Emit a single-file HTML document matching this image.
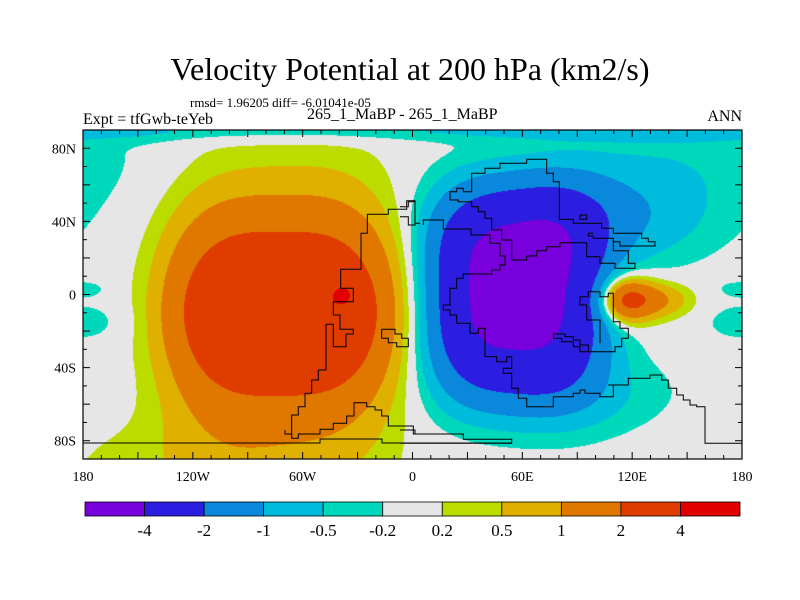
<!DOCTYPE html>
<html><head><meta charset="utf-8"><style>
html,body{margin:0;padding:0;background:#fff;width:800px;height:600px;overflow:hidden}
.t{position:absolute;font-family:"Liberation Serif",serif;color:#000;white-space:nowrap}
</style></head><body>
<div style="position:relative;width:800px;height:600px">
<div class="t" style="left:0;width:820px;text-align:center;top:51px;font-size:32px">Velocity Potential at 200 hPa (km2/s)</div>
<div class="t" style="left:190px;top:95px;font-size:13px">rmsd= 1.96205 diff= -6.01041e-05</div>
<div class="t" style="left:83px;top:111px;font-size:16px">Expt = tfGwb-teYeb</div>
<div class="t" style="left:307px;top:106px;font-size:16px">265_1_MaBP - 265_1_MaBP</div>
<div class="t" style="right:58px;top:108px;font-size:16px">ANN</div>
<canvas id="fld" width="659" height="329" style="position:absolute;left:83px;top:130px"></canvas>
<svg id="ov" width="800" height="600" style="position:absolute;left:0;top:0"></svg>
</div>
<script>
const levels=[-4,-2,-1,-0.5,-0.2,0.2,0.5,1,2,4];
const colors=["#7800dc","#2c1ee0","#0a88dc","#00bcdc","#00d8bc","#e6e6e6","#bcdc00","#e0b000","#e07800","#e03c00","#e00000"];
const levelLabels=["-4","-2","-1","-0.5","-0.2","0.2","0.5","1","2","4"];
const lonTicks=[-180,-120,-60,0,60,120,180];
const lonLabels=["180","120W","60W","0","60E","120E","180"];
const latTicks=[80,40,0,-40,-80];
const latLabels=["80N","40N","0","40S","80S"];
// field sources: amplitude, lon, lat, rx, ry, qx, qy
const srcAmp=[4.0,1.1,-4.8,-1.2,-0.6,2.4,1.0,-0.35,-0.3,0.4,-0.35];
const srcLon=[-72,-37,57,95,80,116,134,180,180,-110,150];
const srcLat=[-10,0,1,42,-55,-3,-3,-15,3,-95,75];
const srcRx=[53,6,40,50,50,12,15,18,12,70,60];
const srcRy=[44.5,6,46,22,20,10,8,9,4,25,25];
const srcQx=[3.3,2,3,2,2,2,2,2,2,2,2];
const srcQy=[1.85,2,2.85,2,2,2,2,2,2,2,2];
const polarAmp=-0.5, polarWidth=6;

const X0=83,X1=742,Y0=130,Y1=459;
const xs=lon=>X0+(lon+180)/360*(X1-X0);
const ys=lat=>Y0+(90-lat)/180*(Y1-Y0);
function field(lon,lat){
  let v=polarAmp*Math.exp(-Math.pow((90-lat)/polarWidth,2));
  for(let i=0;i<srcAmp.length;i++){
    let dx=Math.abs(lon-srcLon[i]); if(dx>180)dx=360-dx;
    const dy=Math.abs(lat-srcLat[i]);
    const s=Math.pow(dx/srcRx[i],srcQx[i])+Math.pow(dy/srcRy[i],srcQy[i]);
    v+=srcAmp[i]*Math.pow(2,-s);
  }
  return v;
}
const rgb=colors.map(c=>[parseInt(c.slice(1,3),16),parseInt(c.slice(3,5),16),parseInt(c.slice(5,7),16)]);
const cv=document.getElementById('fld'),ctx=cv.getContext('2d');
const W=cv.width,H=cv.height,img=ctx.createImageData(W,H);
for(let j=0;j<H;j++){const lat=90-(j+0.5)/H*180;
  for(let i=0;i<W;i++){const lon=-180+(i+0.5)/W*360;const v=field(lon,lat);
    let k=0;while(k<levels.length&&v>=levels[k])k++;
    const c=rgb[k],p=(j*W+i)*4;img.data[p]=c[0];img.data[p+1]=c[1];img.data[p+2]=c[2];img.data[p+3]=255;}}
ctx.putImageData(img,0,0);

const NS="http://www.w3.org/2000/svg",svg=document.getElementById('ov');
function mk(tag,at,par){const e=document.createElementNS(NS,tag);for(const k in at)e.setAttribute(k,at[k]);(par||svg).appendChild(e);return e;}
const z1=[[695,915],[695,855],[715,855],[715,830],[735,830],[735,790],[755,790],[755,750],[775,750],[775,720],[798,720],[798,583],[820,583],[820,650],[858,650],[858,612],[880,612],[880,598],[840,598],[840,555],[820,555],[820,515],[880,515],[880,475],[842,475],[842,418],[903,418],[903,310],[922,310],[922,253],[985,253],[985,238],[1040,238],[1040,212],[1065,212],[1065,280],[1080,280]];
const z1b=[[675,900],[675,912],[695,912],[695,925],[715,925],[715,912],[780,912],[780,898],[820,898],[820,880],[860,880],[860,858],[882,858],[882,818],[920,818],[920,830],[945,830],[945,840],[965,840],[965,858],[985,858],[985,888],[1060,888],[1060,912],[1080,912]];
const z1c=[[965,598],[1005,598],[1005,612],[1025,612],[1025,625],[1045,625],[1045,650],[1010,650],[1010,638],[985,638],[985,625],[965,625],[965,598]];
const z2a=[[0,230],[25,230],[25,215],[45,215],[45,285],[25,285],[25,260],[0,260]];
const z2b=[[70,285],[70,270],[130,270],[130,297],[213,297],[213,315],[270,315],[270,340],[300,340],[300,378],[315,378],[315,405],[300,405],[300,420],[275,420],[275,432],[190,432],[190,445],[170,445],[170,475],[150,475],[150,525],[130,525],[130,540],[150,540],[150,555],[170,555],[170,580],[210,580],[210,610],[235,610],[235,595],[255,595],[255,680],[290,680],[290,695],[320,695],[320,680],[335,680],[335,715],[310,715],[310,730],[335,730],[335,775],[355,775],[355,805],[380,805],[380,830],[460,830],[460,800],[520,800],[520,790],[540,790],[540,780],[555,780],[555,790],[600,790],[600,800],[640,800],[640,765],[625,765]];
const z2c=[[625,765],[685,765],[685,745],[750,745],[750,735],[785,735],[785,750],[805,750],[805,775],[830,775],[830,795],[850,795],[850,810],[870,810],[870,825],[890,825],[890,830],[915,830],[915,940],[1025,940]];
const z2d=[[150,210],[150,185],[170,185],[170,175],[190,175],[190,185],[215,185],[215,130],[255,130],[255,115],[300,115],[300,100],[380,100],[380,88],[440,88],[440,130],[460,130],[460,155],[478,155],[478,268],[520,268],[520,280],[605,280],[605,295],[640,295],[640,310],[725,310],[725,325],[745,325],[745,335],[765,335],[765,348],[660,348],[660,335],[640,335],[640,325],[580,325],[580,318],[565,318],[565,310],[580,310]];
const z2e=[[640,335],[640,362],[685,362],[685,400],[705,400],[705,415],[645,415],[645,400],[600,400],[600,380],[560,380],[560,338],[480,338],[480,350],[440,350],[440,362],[410,362],[410,378],[380,378],[380,390],[335,390],[335,330],[305,330],[305,300],[275,300],[275,265],[255,265],[255,245],[235,245],[235,230],[215,230],[215,215],[175,215],[175,210],[150,210]];
const z2f=[[565,485],[600,485],[600,500],[625,500],[625,490],[640,490],[640,575],[660,575],[660,595],[685,595],[685,625],[665,625],[665,650],[645,650],[645,665],[565,665],[565,645],[540,645],[540,630],[520,630],[520,620],[495,620],[495,612],[460,612],[460,625],[485,625],[485,635],[520,635],[520,650],[540,650],[540,665],[565,665]];
const z2g=[[565,485],[565,500],[540,500],[540,525],[560,525],[560,570],[600,570],[600,640]];
const z2h=[[0,900],[45,900],[45,912],[190,912],[190,928],[335,928],[335,940],[0,940]];
const z2i=[[540,255],[560,255],[560,268],[540,268],[540,255]];
const coastZ1=[z1,z1b,z1c],coastZ2=[z2a,z2b,z2c,z2d,z2e,z2f,z2g,z2h,z2i];
const cg=mk('g',{fill:'none',stroke:'#000','stroke-width':1});

function pl(arr,ox){const p=mk('polyline',{points:arr.map(q=>(ox+q[0]/3).toFixed(1)+','+(130+q[1]/3).toFixed(1)).join(' ')},cg);
  }
coastZ1.forEach(a=>pl(a,60));coastZ2.forEach(a=>pl(a,400));
const bl=mk('polyline',{points:`${X0},443 320,443 320,439 382,439 382,443 512,443`},cg);

const fr=mk('rect',{x:X0,y:Y0,width:X1-X0,height:Y1-Y0,fill:'none',stroke:'#000','stroke-width':1.2});

const tg=mk('g',{stroke:'#000','stroke-width':1});

for(let lon=-180;lon<=180;lon+=10){const x=xs(lon),L=lon%30===0?7:4;
  mk('line',{x1:x,y1:Y1,x2:x,y2:Y1-L},tg);mk('line',{x1:x,y1:Y0,x2:x,y2:Y0+L},tg);}
for(let lat=-90;lat<=90;lat+=10){const y=ys(lat),L=lat%20===0?7:4;
  mk('line',{x1:X0,y1:y,x2:X0+L,y2:y},tg);mk('line',{x1:X1,y1:y,x2:X1-L,y2:y},tg);}
const F='font-family:"Liberation Serif",serif;font-size:14px';
lonTicks.forEach((lon,i)=>{const t=mk('text',{x:xs(lon),y:481,'text-anchor':'middle',style:F});t.textContent=lonLabels[i];
  });
latTicks.forEach((lat,i)=>{const t=mk('text',{x:76,y:ys(lat)+5,'text-anchor':'end',style:F});t.textContent=latLabels[i];
  });
const cb=mk('g',{});
const CB0=85,CB1=740,bw=(CB1-CB0)/colors.length;
colors.forEach((c,i)=>{const r=mk('rect',{x:CB0+i*bw,y:502,width:bw,height:14,fill:c,stroke:'#000','stroke-width':0.8},cb);
  });
levelLabels.forEach((s,i)=>{const t=mk('text',{x:CB0+(i+1)*bw,y:536,'text-anchor':'middle',style:'font-family:"Liberation Serif",serif;font-size:17px'},cb);
  t.textContent=s;});
</script>
</body></html>
